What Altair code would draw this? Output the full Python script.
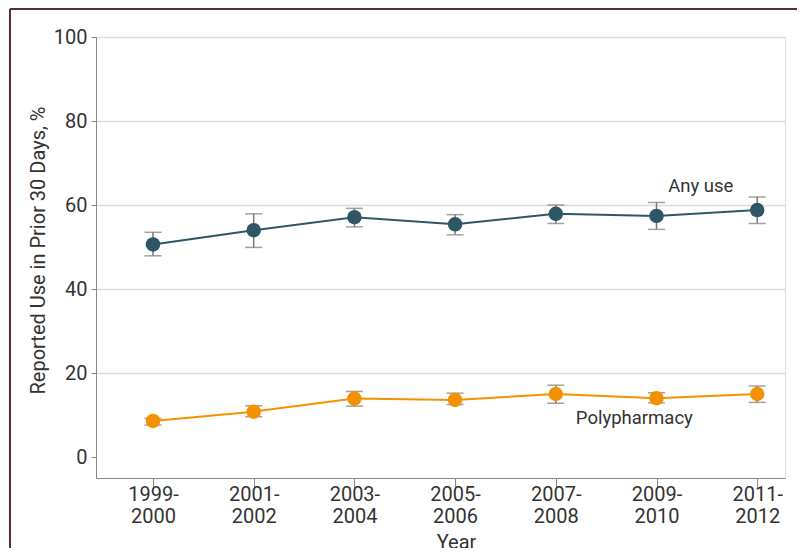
import altair as alt
import pandas as pd
import json

# ---- data ----
periods_top = ["1999-", "2001-", "2003-", "2005-", "2007-", "2009-", "2011-"]
periods_bottom = ["2000", "2002", "2004", "2006", "2008", "2010", "2012"]
period_index = [0, 1, 2, 3, 4, 5, 6]

any_use = [50.6, 54.0, 57.1, 55.4, 57.9, 57.4, 58.8]
any_lo = [47.9, 49.9, 54.8, 52.9, 55.6, 54.2, 55.6]
any_hi = [53.5, 57.9, 59.2, 57.7, 60.0, 60.6, 61.9]

poly = [8.6, 10.8, 13.9, 13.6, 15.0, 14.0, 15.0]
poly_lo = [7.6, 9.6, 12.1, 12.5, 12.8, 12.9, 13.0]
poly_hi = [9.2, 12.2, 15.6, 15.2, 17.1, 15.3, 16.9]

series_names = ["Any use", "Polypharmacy"]
series_colors = ["#2f5664", "#f39200"]

label_text = ["Any use", "Polypharmacy"]
label_x = [5.44, 4.78]
label_y = [64.6, 9.2]

y_ticks = [0, 20, 40, 60, 80, 100]

FONT = "Roboto"
TXT = "#333333"

rows = []
for i in period_index:
    rows.append(dict(idx=i, series="Any use", value=any_use[i], lo=any_lo[i], hi=any_hi[i]))
for i in period_index:
    rows.append(dict(idx=i, series="Polypharmacy", value=poly[i], lo=poly_lo[i], hi=poly_hi[i]))
df = pd.DataFrame(rows)
labels_df = pd.DataFrame(dict(text=label_text, x=label_x, y=label_y))

label_arr = json.dumps([[t, b] for t, b in zip(periods_top, periods_bottom)])

xscale = alt.Scale(domain=[-0.566, 6.276], nice=False, zero=False)
yscale = alt.Scale(domain=[-5, 100], nice=False, zero=False)
color = alt.Color("series:N", scale=alt.Scale(domain=series_names, range=series_colors), legend=None)

x_enc = alt.X(
    "idx:Q",
    scale=xscale,
    axis=alt.Axis(
        values=period_index,
        labelExpr=f"{label_arr}[datum.value]",
        title="Year",
        titleX=360,
        titleAlign="center",
        titlePadding=6,
        titleFont=FONT,
        titleFontSize=20,
        titleFontWeight="normal",
        titleColor=TXT,
        labelFont=FONT,
        labelFontSize=20,
        labelColor=TXT,
        labelLineHeight=22,
        labelPadding=-4,
        tickSize=10,
        tickColor="#888888",
        domainColor="#888888",
        grid=False,
    ),
)
y_enc = alt.Y(
    "value:Q",
    scale=yscale,
    axis=alt.Axis(
        values=y_ticks,
        title="Reported Use in Prior 30 Days, %",
        titleX=-58,
        titleY=213,
        titleAngle=-90,
        titleAlign="center",
        titleBaseline="middle",
        titleFont=FONT,
        titleFontSize=20,
        titleFontWeight="normal",
        titleColor=TXT,
        labelFont=FONT,
        labelFontSize=20,
        labelColor=TXT,
        labelPadding=4,
        tickSize=5,
        tickColor="#888888",
        domainColor="#888888",
        gridColor="#dcdcdc",
        gridWidth=1.5,
        gridOpacity=alt.expr("datum.value == 0 ? 0 : 1"),
    ),
)

base = alt.Chart(df)

lines = base.mark_line(strokeWidth=2).encode(x=x_enc, y=y_enc, color=color, detail="series:N")
bars = base.mark_rule(color="#7a7a7a", strokeWidth=1.5).encode(x="idx:Q", y="lo:Q", y2="hi:Q")
cap_lo = base.mark_tick(color="#7a7a7a", orient="horizontal", size=17, thickness=1.5).encode(x="idx:Q", y="lo:Q")
cap_hi = base.mark_tick(color="#7a7a7a", orient="horizontal", size=17, thickness=1.5).encode(x="idx:Q", y="hi:Q")
points = base.mark_circle(size=210, opacity=1).encode(x="idx:Q", y="value:Q", color=color)

texts = alt.Chart(labels_df).mark_text(font=FONT, fontSize=18.5, color=TXT).encode(
    x="x:Q", y="y:Q", text="text:N"
)

frame_left = alt.Chart(df).mark_rule(color="#5b2c3f", strokeWidth=2).encode(
    x=alt.value(-86), y=alt.value(-28), y2=alt.value(520)
)
frame_top = alt.Chart(df).mark_rule(color="#5b2c3f", strokeWidth=2).encode(
    x=alt.value(-86), x2=alt.value(720), y=alt.value(-28)
)

chart = (
    alt.layer(lines, bars, cap_lo, cap_hi, points, texts, frame_left, frame_top)
    .properties(
        width=689,
        height=441,
        autosize=alt.AutoSizeParams(type="none"),
        padding={"left": 88, "top": 29, "right": 12, "bottom": 70},
    )
    .configure_view(stroke=None)
    .configure(background="white")
)

chart.save("out.html", embed_options={"renderer": "svg", "actions": False})
